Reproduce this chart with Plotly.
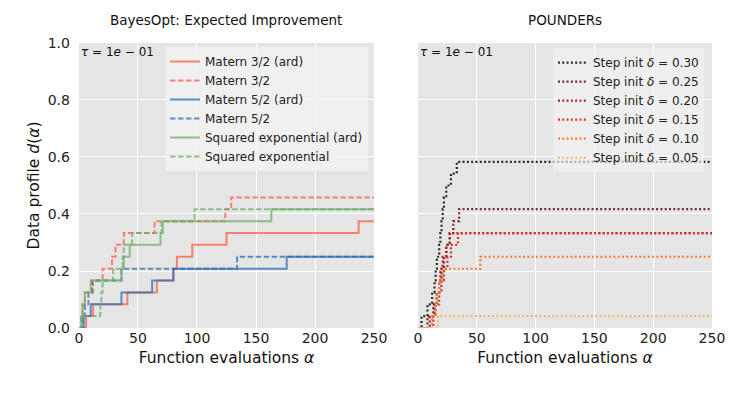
import plotly.graph_objects as go

# --- data: step points (function evaluations) and data-profile levels ---
# BayesOpt: Expected Improvement
m32_ard_x = [0, 6, 12, 41, 66, 80, 83, 96, 125, 237, 250]
m32_ard_y = [0, 0.042, 0.083, 0.125, 0.167, 0.208, 0.25, 0.292, 0.333, 0.375, 0.375]
m32_x = [0, 2, 3, 5, 12, 20, 28, 31, 38, 64, 124, 129, 250]
m32_y = [0, 0.042, 0.083, 0.125, 0.167, 0.208, 0.25, 0.292, 0.333, 0.375, 0.417, 0.458, 0.458]
m52_ard_x = [0, 4, 10, 36, 62, 80, 176, 250]
m52_ard_y = [0, 0.042, 0.083, 0.125, 0.167, 0.208, 0.25, 0.25]
m52_x = [0, 3, 5, 8, 11, 36, 134, 250]
m52_y = [0, 0.042, 0.083, 0.125, 0.167, 0.208, 0.25, 0.25]
se_ard_x = [0, 2, 3, 5, 10, 36, 38, 43, 69, 71, 163, 250]
se_ard_y = [0, 0.042, 0.083, 0.125, 0.167, 0.208, 0.25, 0.292, 0.333, 0.375, 0.417, 0.417]
se_x = [0, 2, 18, 19, 20, 29, 37, 38, 45, 70, 98, 250]
se_y = [0, 0.042, 0.083, 0.125, 0.167, 0.208, 0.25, 0.292, 0.333, 0.375, 0.417, 0.417]

# POUNDERs
d30_x = [0, 3, 8, 12, 14, 15, 16, 18, 19, 20, 21, 22, 24, 28, 33, 250]
d30_y = [0, 0.042, 0.083, 0.125, 0.167, 0.208, 0.25, 0.292, 0.333, 0.375, 0.417,
         0.458, 0.5, 0.542, 0.583, 0.583]
d25_x = [0, 8, 13, 16, 18, 20, 22, 24, 27, 30, 35, 250]
d25_y = [0, 0.042, 0.083, 0.125, 0.167, 0.208, 0.25, 0.292, 0.333, 0.375, 0.417, 0.417]
d20_x = [0, 10, 14, 16, 18, 19, 21, 24, 27, 250]
d20_y = [0, 0.042, 0.083, 0.125, 0.167, 0.208, 0.25, 0.292, 0.333, 0.333]
d15_x = [0, 13, 15, 18, 20, 22, 25, 28, 34, 250]
d15_y = [0, 0.042, 0.083, 0.125, 0.167, 0.208, 0.25, 0.292, 0.333, 0.333]
d10_x = [0, 12, 15, 16, 18, 21, 53, 250]
d10_y = [0, 0.042, 0.083, 0.125, 0.167, 0.208, 0.25, 0.25]
d05_x = [0, 17, 250]
d05_y = [0, 0.042, 0.042]

x_ticks = [0, 50, 100, 150, 200, 250]
y_ticks = [0.0, 0.2, 0.4, 0.6, 0.8, 1.0]

FONT = "DejaVu Sans, sans-serif"
RED = "rgba(254,94,73,0.75)"
BLUE = "rgba(44,110,177,0.75)"
GREEN = "rgba(110,174,104,0.75)"
DASH = "5.5px,2.5px"
DOT = "2px,2.3px"

# the page body adds an 8px offset, so domains are shifted to compensate
X1 = [0.0950, 0.4900]
X2 = [0.5489, 0.9424]
YD = [0.1878, 0.9112]

fig = go.Figure()

left = [
    (m32_ard_x, m32_ard_y, "Matern 3/2 (ard)", RED, "solid"),
    (m32_x, m32_y, "Matern 3/2", RED, DASH),
    (m52_ard_x, m52_ard_y, "Matern 5/2 (ard)", BLUE, "solid"),
    (m52_x, m52_y, "Matern 5/2", BLUE, DASH),
    (se_ard_x, se_ard_y, "Squared exponential (ard)", GREEN, "solid"),
    (se_x, se_y, "Squared exponential", GREEN, DASH),
]
for xs, ys, name, col, dash in left:
    fig.add_trace(go.Scatter(
        x=xs, y=ys, name=name, mode="lines", line_shape="hv",
        line=dict(color=col, width=2, dash=dash),
        xaxis="x", yaxis="y", legend="legend",
    ))

right = [
    (d30_x, d30_y, "Step init <i>δ</i> = 0.30", "#2b2b2b"),
    (d25_x, d25_y, "Step init <i>δ</i> = 0.25", "#7a2a2e"),
    (d20_x, d20_y, "Step init <i>δ</i> = 0.20", "#a3222a"),
    (d15_x, d15_y, "Step init <i>δ</i> = 0.15", "#d7352c"),
    (d10_x, d10_y, "Step init <i>δ</i> = 0.10", "#f87a35"),
    (d05_x, d05_y, "Step init <i>δ</i> = 0.05", "#fdb56e"),
]
for xs, ys, name, col in right:
    fig.add_trace(go.Scatter(
        x=xs, y=ys, name=name, mode="lines", line_shape="hv",
        line=dict(color=col, width=2.2, dash=DOT),
        xaxis="x2", yaxis="y2", legend="legend2",
    ))

axis_common = dict(
    showgrid=True, gridcolor="white", gridwidth=1, zeroline=False,
    showline=False, ticks="", automargin=False,
    tickfont=dict(size=14, color="#222", family=FONT),
)
title_font = dict(size=15.5, color="#111", family=FONT)

fig.update_layout(
    width=747, height=394,
    margin=dict(l=0, r=0, t=0, b=0),
    paper_bgcolor="white",
    plot_bgcolor="#E5E5E5",
    font=dict(family=FONT, color="#222"),
    xaxis=dict(domain=X1, range=[0, 250], tickvals=x_ticks,
               title=dict(text="Function evaluations <i>α</i>", font=title_font, standoff=7),
               anchor="y", **axis_common),
    yaxis=dict(domain=YD, range=[0, 1], tickvals=y_ticks,
               tickformat=".1f", anchor="x", ticklabelstandoff=8,
               title=dict(text="Data profile <i>d</i>(<i>α</i>)", font=title_font, standoff=4),
               **axis_common),
    xaxis2=dict(domain=X2, range=[0, 250], tickvals=x_ticks,
                title=dict(text="Function evaluations <i>α</i>", font=title_font, standoff=7),
                anchor="y2", **axis_common),
    yaxis2=dict(domain=YD, range=[0, 1], tickvals=y_ticks,
                showticklabels=False, anchor="x2", matches="y", **axis_common),
    legend=dict(x=0.4819, y=0.901, xanchor="right", yanchor="top",
                bgcolor="rgba(242,242,242,0.8)", borderwidth=0,
                font=dict(size=12, family=FONT, color="#222")),
    legend2=dict(x=0.9317, y=0.898, xanchor="right", yanchor="top",
                 bgcolor="rgba(242,242,242,0.65)", borderwidth=0,
                 font=dict(size=12, family=FONT, color="#222")),
    showlegend=True,
)

# subplot titles
for xc, txt in [(sum(X1) / 2, "BayesOpt: Expected Improvement"),
                (sum(X2) / 2, "POUNDERs")]:
    fig.add_annotation(x=xc, y=1 - 12 / 394, xref="paper", yref="paper", text=txt,
                       showarrow=False, xanchor="center", yanchor="middle",
                       font=dict(size=13.5, family=FONT, color="#111"))

# tolerance labels
for xr, yr in [("x domain", "y domain"), ("x2 domain", "y2 domain")]:
    fig.add_annotation(x=0.0, y=1.0, xref=xr, yref=yr,
                       text="<i>τ</i> = 1<i>e</i> − 01", showarrow=False,
                       xanchor="left", yanchor="top",
                       font=dict(size=12, family=FONT, color="#111"))

fig.write_html("out.html")
